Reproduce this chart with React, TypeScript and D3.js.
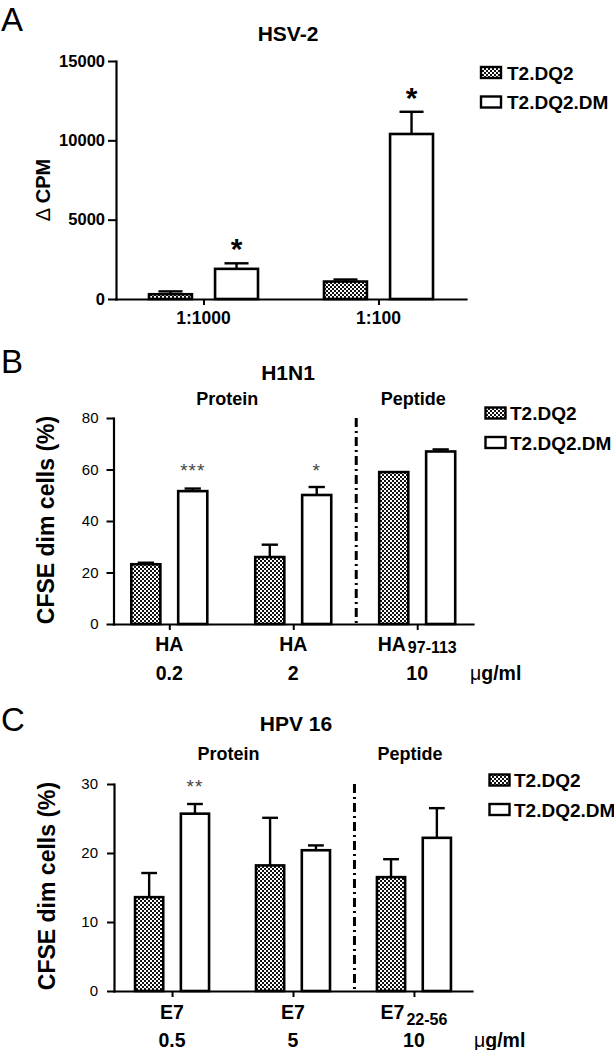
import * as d3 from "d3";
import React, { useEffect, useRef } from "react";

const seriesNames = ["T2.DQ2", "T2.DQ2.DM"];

// panel A - HSV-2
const catsA = ["1:1000", "1:100"];
const dq2A = [300, 1100];
const dq2ErrA = [180, 130];
const dmA = [1900, 10400];
const dmErrA = [350, 1400];
const sigA = ["*", "*"];
const ticksA = [0, 5000, 10000, 15000];

// panel B - H1N1
const catsB = ["HA", "HA", "HA"];
const subsB = ["", "", "97-113"];
const dosesB = ["0.2", "2", "10"];
const dq2B = [23.2, 26, 59];
const dq2ErrB = [0.6, 4.8, 0];
const dmB = [51.6, 50.1, 67];
const dmErrB = [1, 3.1, 0.8];
const sigB = ["***", "*", ""];
const ticksB = [0, 20, 40, 60, 80];

// panel C - HPV 16
const catsC = ["E7", "E7", "E7"];
const subsC = ["", "", "22-56"];
const dosesC = ["0.5", "5", "10"];
const dq2C = [13.6, 18.2, 16.5];
const dq2ErrC = [3.5, 6.9, 2.6];
const dmC = [25.7, 20.4, 22.2];
const dmErrC = [1.4, 0.7, 4.3];
const sigC = ["**", "", ""];
const ticksC = [0, 10, 20, 30];

const FONT = "'Liberation Sans', Arial, Helvetica, sans-serif";

const panels = [
  {
    letter: "A", letterY: 31, title: "HSV-2", titleX: 288, titleY: 41,
    cats: catsA, subs: null, doses: null, dq2: dq2A, dq2Err: dq2ErrA, dm: dmA, dmErr: dmErrA,
    sig: sigA, ticks: ticksA, max: 15000,
    left: 116, right: 466, yTop: 61, y0: 299, pad: 0.5, groupW: 109, innerPad: 0.35,
    yLabel: "CPM", delta: true, yLabelX: 43, yLabelY: 190, yLabelSize: 20,
    tickBold: true, tickFont: 16.5, tickLen: 8, tickPad: 3,
    catY: 324, catSize: 17.5,
    legendX: 481, legendY: 72.5, legendTextX: 507,
    sections: false,
  },
  {
    letter: "B", letterY: 373, title: "H1N1", titleX: 288, titleY: 380,
    cats: catsB, subs: subsB, doses: dosesB, dq2: dq2B, dq2Err: dq2ErrB, dm: dmB, dmErr: dmErrB,
    sig: sigB, sigLevel: 61.4, ticks: ticksB, max: 80,
    left: 113.5, right: 473, yTop: 418, y0: 624, pad: 0.45, groupW: 76, innerPad: 0.38,
    yLabel: "CFSE dim cells (%)", delta: false, yLabelX: 46, yLabelY: 520, yLabelSize: 23,
    tickBold: false, tickFont: 15, tickLen: 7, tickPad: 8,
    catY: 651, subDy: 1.5, doseY: 680, catSize: 19.5, unitX: 470,
    legendX: 485.5, legendY: 413, legendTextX: 510,
    sections: true, sectionY: 405,
  },
  {
    letter: "C", letterY: 731, title: "HPV 16", titleX: 296, titleY: 731,
    cats: catsC, subs: subsC, doses: dosesC, dq2: dq2C, dq2Err: dq2ErrC, dm: dmC, dmErr: dmErrC,
    sig: sigC, sigLevel: 30.3, ticks: ticksC, max: 30,
    left: 114, right: 472, yTop: 784, y0: 991, pad: 0.48, groupW: 74, innerPad: 0.385,
    yLabel: "CFSE dim cells (%)", delta: false, yLabelX: 47, yLabelY: 886, yLabelSize: 23,
    tickBold: false, tickFont: 15, tickLen: 7, tickPad: 9,
    catY: 1019, subDy: 6, doseY: 1047, catSize: 19.5, unitX: 474,
    legendX: 489.5, legendY: 780, legendTextX: 514,
    sections: true, sectionY: 760,
  },
];

function drawPanel(svg: any, p: any) {
  const g = svg.append("g").attr("font-family", FONT);
  const n = p.cats.length;
  const x = d3.scalePoint<number>().domain(d3.range(n)).range([p.left, p.right]).padding(p.pad);
  const inner = d3.scaleBand().domain(seriesNames).range([-p.groupW / 2, p.groupW / 2]).paddingInner(p.innerPad);
  const y = d3.scaleLinear().domain([0, p.max]).range([p.y0, p.yTop]);
  const bw = inner.bandwidth();

  // panel letter + title
  g.append("text").attr("x", 1).attr("y", p.letterY).attr("font-size", 33).text(p.letter);
  g.append("text").attr("x", p.titleX).attr("y", p.titleY).attr("text-anchor", "middle")
    .attr("font-size", 21).attr("font-weight", "bold").text(p.title);

  const rows = d3.range(n).flatMap((i) => [
    { i, s: seriesNames[0], v: p.dq2[i], e: p.dq2Err[i], sig: "" },
    { i, s: seriesNames[1], v: p.dm[i], e: p.dmErr[i], sig: p.sig[i] },
  ]);

  // bars
  g.selectAll("rect.bar").data(rows).enter().append("rect")
    .attr("class", "bar")
    .attr("x", (d: any) => x(d.i)! + inner(d.s)!)
    .attr("y", (d: any) => y(d.v))
    .attr("width", bw)
    .attr("height", (d: any) => p.y0 - y(d.v))
    .attr("fill", (d: any) => (d.s === seriesNames[0] ? "url(#checker)" : "#fff"))
    .attr("stroke", "#000")
    .attr("stroke-width", 2.6);

  // error bars (upper only)
  const errs = rows.filter((d: any) => d.e > 0);
  const cx = (d: any) => x(d.i)! + inner(d.s)! + bw / 2;
  g.selectAll("line.err").data(errs).enter().append("line")
    .attr("x1", cx).attr("x2", cx)
    .attr("y1", (d: any) => y(d.v)).attr("y2", (d: any) => y(d.v + d.e))
    .attr("stroke", "#000").attr("stroke-width", 2.4);
  g.selectAll("line.cap").data(errs).enter().append("line")
    .attr("x1", (d: any) => cx(d) - bw * 0.28).attr("x2", (d: any) => cx(d) + bw * 0.28)
    .attr("y1", (d: any) => y(d.v + d.e)).attr("y2", (d: any) => y(d.v + d.e))
    .attr("stroke", "#000").attr("stroke-width", 2.4);

  // significance stars
  const sigs = rows.filter((d: any) => d.sig);
  if (p.sigLevel === undefined) {
    g.selectAll("text.sig").data(sigs).enter().append("text")
      .attr("x", cx).attr("y", (d: any) => y(d.v + d.e) - 21 + 17)
      .attr("text-anchor", "middle").attr("font-size", 30).attr("font-weight", "bold")
      .text((d: any) => d.sig);
  } else {
    g.selectAll("text.sig").data(sigs).enter().append("text")
      .attr("x", cx).attr("y", y(p.sigLevel) + 11)
      .attr("text-anchor", "middle").attr("font-size", 19).attr("fill", "#444")
      .attr("letter-spacing", 1)
      .text((d: any) => d.sig);
  }

  // dash-dot divider
  if (p.sections) {
    const xd = (x(1)! + x(2)!) / 2 + 1;
    g.append("line").attr("x1", xd).attr("x2", xd).attr("y1", p.yTop).attr("y2", p.y0)
      .attr("stroke", "#000").attr("stroke-width", 3).attr("stroke-dasharray", "9,4,2,4");
    g.append("text").attr("x", (x(0)! + x(1)!) / 2 - 4).attr("y", p.sectionY)
      .attr("text-anchor", "middle").attr("font-size", 18).attr("font-weight", "bold").text("Protein");
    g.append("text").attr("x", x(2)! - 4).attr("y", p.sectionY)
      .attr("text-anchor", "middle").attr("font-size", 18).attr("font-weight", "bold").text("Peptide");
  }

  // axes
  const yAxis = g.append("g").attr("transform", `translate(${p.left},0)`)
    .call(d3.axisLeft(y).tickValues(p.ticks).tickSize(p.tickLen).tickSizeOuter(0).tickPadding(p.tickPad).tickFormat(d3.format("d")));
  yAxis.select(".domain").attr("stroke-width", 2.2).attr("stroke-linecap", "square");
  yAxis.selectAll(".tick line").attr("stroke-width", 2);
  yAxis.selectAll("text").attr("font-family", FONT).attr("font-size", p.tickFont)
    .attr("font-weight", p.tickBold ? "bold" : "normal").attr("fill", "#000");

  const xAxis = g.append("g").attr("transform", `translate(0,${p.y0})`)
    .call(d3.axisBottom(x).tickSize(6).tickSizeOuter(0).tickFormat(() => ""));
  xAxis.select(".domain").attr("stroke-width", 2.2).attr("stroke-linecap", "square");
  xAxis.selectAll(".tick line").attr("stroke-width", 2);

  // category labels
  d3.range(n).forEach((i) => {
    const t = g.append("text").attr("x", x(i)).attr("y", p.catY).attr("text-anchor", "middle")
      .attr("font-size", p.catSize).attr("font-weight", "bold");
    t.append("tspan").text(p.cats[i]);
    if (p.subs && p.subs[i]) {
      t.append("tspan").attr("dx", 2).attr("dy", p.subDy).attr("font-size", 16).text(p.subs[i]);
    }
    if (p.doses) {
      g.append("text").attr("x", x(i)).attr("y", p.doseY).attr("text-anchor", "middle")
        .attr("font-size", p.catSize).attr("font-weight", "bold").text(p.doses[i]);
    }
  });
  if (p.doses) {
    const u = g.append("text").attr("x", p.unitX).attr("y", p.doseY).attr("font-size", p.catSize).attr("font-weight", "bold");
    u.append("tspan").attr("font-weight", "normal").text("\u03bc");
    u.append("tspan").text("g/ml");
  }

  // y label
  const yl = g.append("text")
    .attr("transform", `translate(${p.yLabelX},${p.yLabelY}) rotate(-90)`)
    .attr("text-anchor", "middle").attr("dominant-baseline", "central")
    .attr("font-size", p.yLabelSize).attr("font-weight", "bold");
  if (p.delta) yl.append("tspan").attr("font-weight", "normal").text("\u0394 ");
  yl.append("tspan").text(p.yLabel);

  // legend
  seriesNames.forEach((s, k) => {
    const cy = p.legendY + k * 29.5;
    g.append("rect").attr("x", p.legendX).attr("y", cy - 5.5).attr("width", 20).attr("height", 11)
      .attr("fill", k === 0 ? "url(#checker)" : "#fff").attr("stroke", "#000").attr("stroke-width", 2.4);
    g.append("text").attr("x", p.legendTextX).attr("y", cy + 7).attr("font-size", 19)
      .attr("font-weight", "bold").text(s);
  });
}

export default function App() {
  const ref = useRef<SVGSVGElement>(null);

  useEffect(() => {
    const svg = d3.select(ref.current);
    svg.selectAll("*").remove();
    const defs = svg.append("defs");
    const pat = defs.append("pattern").attr("id", "checker").attr("width", 4).attr("height", 4)
      .attr("patternUnits", "userSpaceOnUse");
    pat.append("rect").attr("width", 4).attr("height", 4).attr("fill", "#fff");
    pat.append("rect").attr("width", 2).attr("height", 2).attr("fill", "#111");
    pat.append("rect").attr("x", 2).attr("y", 2).attr("width", 2).attr("height", 2).attr("fill", "#111");
    panels.forEach((p) => drawPanel(svg, p));
  }, []);

  return (
    <svg ref={ref} width={614} height={1050}
      style={{ position: "absolute", left: 0, top: 0, background: "#fff" }} />
  );
}
